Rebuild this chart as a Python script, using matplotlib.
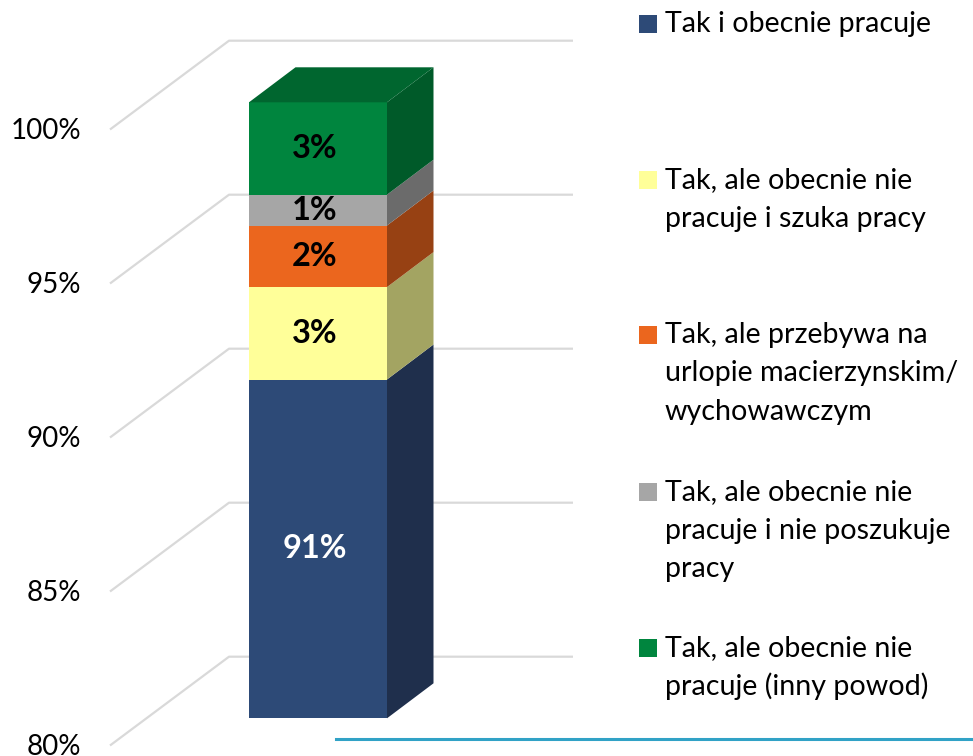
import matplotlib
matplotlib.use("Agg")
import matplotlib.pyplot as plt
from matplotlib.patches import Polygon, Rectangle
import numpy as np

# ---- data ----
categories = ["Tak i obecnie pracuje",
              "Tak, ale obecnie nie\npracuje i szuka pracy",
              "Tak, ale przebywa na\nurlopie macierzynskim/\nwychowawczym",
              "Tak, ale obecnie nie\npracuje i nie poszukuje\npracy",
              "Tak, ale obecnie nie\npracuje (inny powod)"]
values = [91, 3, 2, 1, 3]
value_labels = ["91%", "3%", "2%", "1%", "3%"]
yticks = [80, 85, 90, 95, 100]
ytick_labels = ["80%", "85%", "90%", "95%", "100%"]

front_colors = ["#2D4A77", "#FFFF99", "#EB661E", "#A6A6A6", "#00853E"]
side_colors = ["#1F2F4C", "#A3A462", "#974113", "#6B6B6B", "#005A29"]
top_color = "#00662F"
label_colors = ["white", "black", "black", "black", "black"]

plt.rcParams['font.family'] = ['Lato', 'DejaVu Sans']

W, H = 973, 756
fig = plt.figure(figsize=(W / 100, H / 100), dpi=100)
ax = fig.add_axes([0, 0, 1, 1])

PX = 30.8            # pixels per percent
base = 80.0
bar_bottom_px = 718.3
ax.set_xlim(0, W)
ax.set_ylim(base - (H - bar_bottom_px) / PX, base + bar_bottom_px / PX)
ax.axis("off")

# 3D geometry (x in px, depth in percent units)
bar_left, bar_width = 249, 138
depth_dx, depth_dy = 46.5, 35.0 / PX
front_dx_grid, back_dx_grid, grid_end = 110, 229, 573
front_off, back_off = -27.2 / PX, 61.6 / PX

# gridlines (perspective) and tick labels
for t, lab in zip(yticks, ytick_labels):
    ax.plot([front_dx_grid, back_dx_grid, grid_end],
            [t + front_off, t + back_off, t + back_off],
            color="#D9D9D9", lw=1.6, zorder=1, solid_capstyle="butt")
    ax.text(81, t + front_off - 0.05, lab, ha="right", va="center",
            fontsize=20, color="black")

# stacked bar: front faces
cum = np.cumsum(values).astype(float)          # 91, 94, 96, 97, 100
tops = cum
lows = np.concatenate([[base], cum[:-1]])

ax.bar(bar_left + bar_width / 2, tops - lows, bottom=lows, width=bar_width,
       color=front_colors, edgecolor="none", zorder=3)
x_r = bar_left + bar_width
for lo, hi, sc in zip(lows, tops, side_colors):
    ax.add_patch(Polygon([(x_r, lo), (x_r + depth_dx, lo + depth_dy),
                          (x_r + depth_dx, hi + depth_dy), (x_r, hi)],
                         closed=True, facecolor=sc, edgecolor="none", zorder=3))
top = tops[-1]
ax.add_patch(Polygon([(bar_left, top), (bar_left + depth_dx, top + depth_dy),
                      (x_r + depth_dx, top + depth_dy), (x_r, top)],
                     closed=True, facecolor=top_color, edgecolor="none", zorder=3))

for lo, hi, lab, lc in zip(lows, tops, value_labels, label_colors):
    ax.text(bar_left + bar_width / 2 - 3, (lo + hi) / 2, lab, ha="center", va="center",
            fontsize=23.5, fontweight="bold", color=lc, zorder=4)

# legend (manual)
leg_x_sq, leg_x_txt = 639, 665
first_line_y = [24, 180, 335, 492, 648]
line_gap = 38.5
for i, (cat, fc) in enumerate(zip(categories, front_colors)):
    y0 = first_line_y[i]
    fig.patches.append(Rectangle((leg_x_sq / W, 1 - (y0 + 9) / H), 18 / W, 18 / H,
                                 transform=fig.transFigure, facecolor=fc,
                                 edgecolor="none"))
    for j, line in enumerate(cat.split("\n")):
        fig.text(leg_x_txt / W, 1 - (y0 + j * line_gap) / H, line,
                 ha="left", va="center", fontsize=20.6, color="black")

# decorative bottom line
fig.add_artist(plt.Line2D([336 / W, 1.0], [1 - 739 / H, 1 - 739 / H],
                          transform=fig.transFigure, color="#31A2C6", lw=2.2))

fig.savefig("out.png", dpi=100)
